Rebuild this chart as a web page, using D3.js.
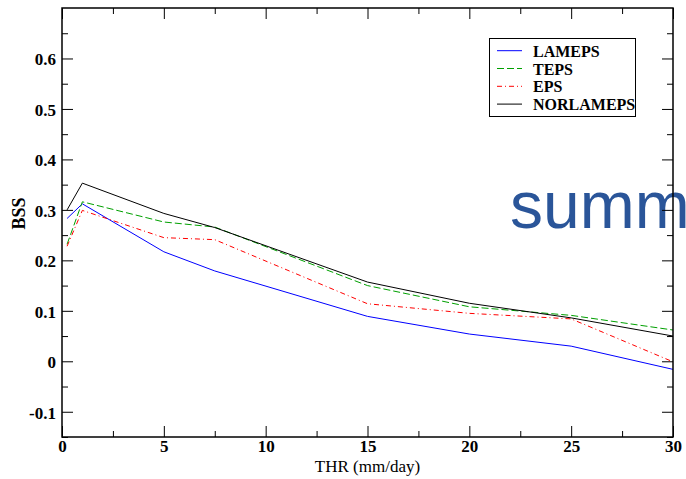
<!DOCTYPE html>
<html>
<head>
<meta charset="utf-8">
<script src="https://cdn.jsdelivr.net/npm/d3@7"></script>
<style>
  html, body { margin: 0; padding: 0; background: #fff; }
  svg { display: block; }
</style>
</head>
<body>
<svg id="chart" width="686" height="479"></svg>
<script>
// ---- data ----
const thr = [0.25, 1, 5, 7.5, 15, 20, 25, 30];
const lameps = [0.283, 0.312, 0.217, 0.179, 0.089, 0.054, 0.030, -0.016];
const teps = [0.232, 0.316, 0.276, 0.266, 0.150, 0.108, 0.091, 0.062];
const eps = [0.228, 0.299, 0.245, 0.241, 0.114, 0.095, 0.084, -0.001];
const norlameps = [0.300, 0.353, 0.293, 0.265, 0.157, 0.115, 0.086, 0.050];
const seriesNames = ["LAMEPS", "TEPS", "EPS", "NORLAMEPS"];
const xTicks = [0, 5, 10, 15, 20, 25, 30];
const yTicks = [-0.1, 0, 0.1, 0.2, 0.3, 0.4, 0.5, 0.6];
const yTickLabels = ["-0.1", "0", "0.1", "0.2", "0.3", "0.4", "0.5", "0.6"];

const seriesValues = [lameps, teps, eps, norlameps];
const styles = [
  { color: "#0000ff", dash: null },
  { color: "#00a000", dash: "7,3" },
  { color: "#ff0000", dash: "5,3,1,3" },
  { color: "#000000", dash: null }
];

const svg = d3.select("#chart");
const L = 62, R = 673, T = 8, B = 437;

const x = d3.scaleLinear().domain([0, 30]).range([L, R]);
const y = d3.scaleLinear().domain([-0.15, 0.7]).range([B, T]);

svg.append("rect").attr("width", 686).attr("height", 479).attr("fill", "#fff");

// ---- lines ----
const line = d3.line().x(d => x(d[0])).y(d => y(d[1]));
seriesValues.forEach((vals, i) => {
  svg.append("path")
    .datum(thr.map((t, j) => [t, vals[j]]))
    .attr("fill", "none")
    .attr("stroke", styles[i].color)
    .attr("stroke-width", 1)
    .attr("stroke-dasharray", styles[i].dash)
    .attr("d", line);
});

// ---- overlay text ----
svg.append("text")
  .attr("x", 510).attr("y", 227.5)
  .attr("font-family", "Liberation Sans, Arial, sans-serif")
  .attr("font-size", 66)
  .attr("fill", "#2a5599")
  .text("summ");

// ---- axes ----
const serif = "Liberation Serif, Times New Roman, serif";
const minorX = d3.range(0, 30.01, 2.5).filter(v => v % 5 !== 0);
const minorY = d3.range(-0.15, 0.701, 0.05).map(v => +v.toFixed(2)).filter(v => Math.abs(Math.round(v * 10) - v * 10) > 1e-6);

function styleAxis(g) {
  g.select(".domain").remove();
  g.selectAll("line").attr("stroke", "#000").attr("stroke-width", 1);
}

// bottom
const gb = svg.append("g").attr("transform", `translate(0,${B})`)
  .call(d3.axisBottom(x).tickValues(xTicks).tickSize(-11).tickFormat(d3.format("d")));
styleAxis(gb);
gb.selectAll("text").attr("y", 15).attr("dy", null)
  .attr("font-family", serif).attr("font-size", 17).attr("font-weight", "bold").attr("fill", "#000");
const gbm = svg.append("g").attr("transform", `translate(0,${B})`)
  .call(d3.axisBottom(x).tickValues(minorX).tickSize(-6).tickFormat(""));
styleAxis(gbm);

// top
const gt = svg.append("g").attr("transform", `translate(0,${T})`)
  .call(d3.axisTop(x).tickValues(xTicks).tickSize(-11).tickFormat(""));
styleAxis(gt);
const gtm = svg.append("g").attr("transform", `translate(0,${T})`)
  .call(d3.axisTop(x).tickValues(minorX).tickSize(-6).tickFormat(""));
styleAxis(gtm);

// left
const gl = svg.append("g").attr("transform", `translate(${L},0)`)
  .call(d3.axisLeft(y).tickValues(yTicks).tickSize(-11).tickFormat((d, i) => yTickLabels[i]));
styleAxis(gl);
gl.selectAll("text").attr("x", -6).attr("dy", "0.38em")
  .attr("font-family", serif).attr("font-size", 17).attr("font-weight", "bold").attr("fill", "#000");
const glm = svg.append("g").attr("transform", `translate(${L},0)`)
  .call(d3.axisLeft(y).tickValues(minorY).tickSize(-6).tickFormat(""));
styleAxis(glm);

// right
const gr = svg.append("g").attr("transform", `translate(${R},0)`)
  .call(d3.axisRight(y).tickValues(yTicks).tickSize(-11).tickFormat(""));
styleAxis(gr);
const grm = svg.append("g").attr("transform", `translate(${R},0)`)
  .call(d3.axisRight(y).tickValues(minorY).tickSize(-6).tickFormat(""));
styleAxis(grm);

// frame
svg.append("rect")
  .attr("x", L).attr("y", T).attr("width", R - L).attr("height", B - T)
  .attr("fill", "none").attr("stroke", "#000").attr("stroke-width", 1.5);

// axis titles
svg.append("text")
  .attr("x", (L + R) / 2).attr("y", 472)
  .attr("text-anchor", "middle")
  .attr("font-family", serif).attr("font-size", 17)
  .attr("fill", "#000")
  .text("THR (mm/day)");

svg.append("text")
  .attr("transform", "translate(25,213.5) rotate(-90)")
  .attr("text-anchor", "middle")
  .attr("font-family", serif).attr("font-size", 18).attr("font-weight", "bold")
  .attr("fill", "#000")
  .text("BSS");

// ---- legend ----
const lg = svg.append("g");
lg.append("rect")
  .attr("x", 489.5).attr("y", 38.5).attr("width", 146).attr("height", 78)
  .attr("fill", "#fff").attr("stroke", "#000").attr("stroke-width", 1);
seriesNames.forEach((name, i) => {
  const cy = 50.7 + i * 17.8;
  lg.append("line")
    .attr("x1", 497).attr("x2", 522).attr("y1", cy).attr("y2", cy)
    .attr("stroke", styles[i].color).attr("stroke-width", 1)
    .attr("stroke-dasharray", styles[i].dash);
  lg.append("text")
    .attr("x", 533).attr("y", cy + 6)
    .attr("font-family", serif).attr("font-size", 16).attr("font-weight", "bold")
    .attr("fill", "#000")
    .text(name);
});
</script>
</body>
</html>
